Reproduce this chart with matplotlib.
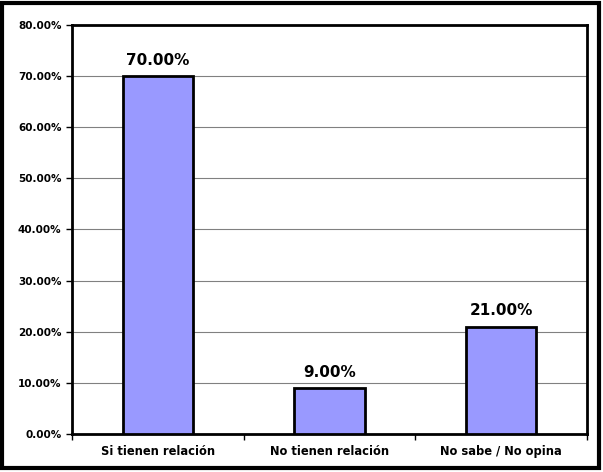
import matplotlib.pyplot as plt
from matplotlib.patches import Rectangle
from matplotlib.ticker import FuncFormatter, MultipleLocator

categories = ["Si tienen relación", "No tienen relación", "No sabe / No opina"]
values = [70.0, 9.0, 21.0]

plt.rcParams['font.family'] = ['DejaVu Sans']
plt.rcParams['font.weight'] = 'bold'

fig = plt.figure(figsize=(6.03, 4.72), dpi=100)
ax = fig.add_axes([72 / 603, 1 - 434 / 472, (587 - 72) / 603, (434 - 25) / 472])

# outer frame around the whole chart
fig.patches.append(Rectangle((2 / 603, 4 / 472), 597 / 603, 465 / 472,
                             transform=fig.transFigure, fill=False,
                             edgecolor='black', linewidth=3))

x = range(len(categories))
bars = ax.bar(x, values, width=0.41, color='#9999ff', edgecolor='black',
              linewidth=2, zorder=3)

for b, v in zip(bars, values):
    ax.annotate(f"{v:.2f}%", (b.get_x() + b.get_width() / 2, v),
                xytext=(0, 6), textcoords='offset points',
                ha='center', va='bottom', fontsize=11, fontweight='bold')

ax.set_xlim(-0.5, 2.5)
ax.set_ylim(0, 80)
ax.yaxis.set_major_locator(MultipleLocator(10))
ax.yaxis.set_major_formatter(FuncFormatter(lambda v, p: f"{v:.2f}%"))
ax.grid(axis='y', color='#808080', linewidth=0.8, zorder=0)

ax.set_xticks(x)
ax.set_xticklabels(categories)
ax.set_xticks([-0.5, 0.5, 1.5, 2.5], minor=True)
ax.tick_params(axis='x', which='major', length=0, pad=8, labelsize=8.3)
ax.tick_params(axis='x', which='minor', length=4, width=1, direction='out')
ax.tick_params(axis='y', length=4, width=1, direction='out', labelsize=7.5)

for s in ax.spines.values():
    s.set_linewidth(2)

fig.savefig("out.png", dpi=100)
